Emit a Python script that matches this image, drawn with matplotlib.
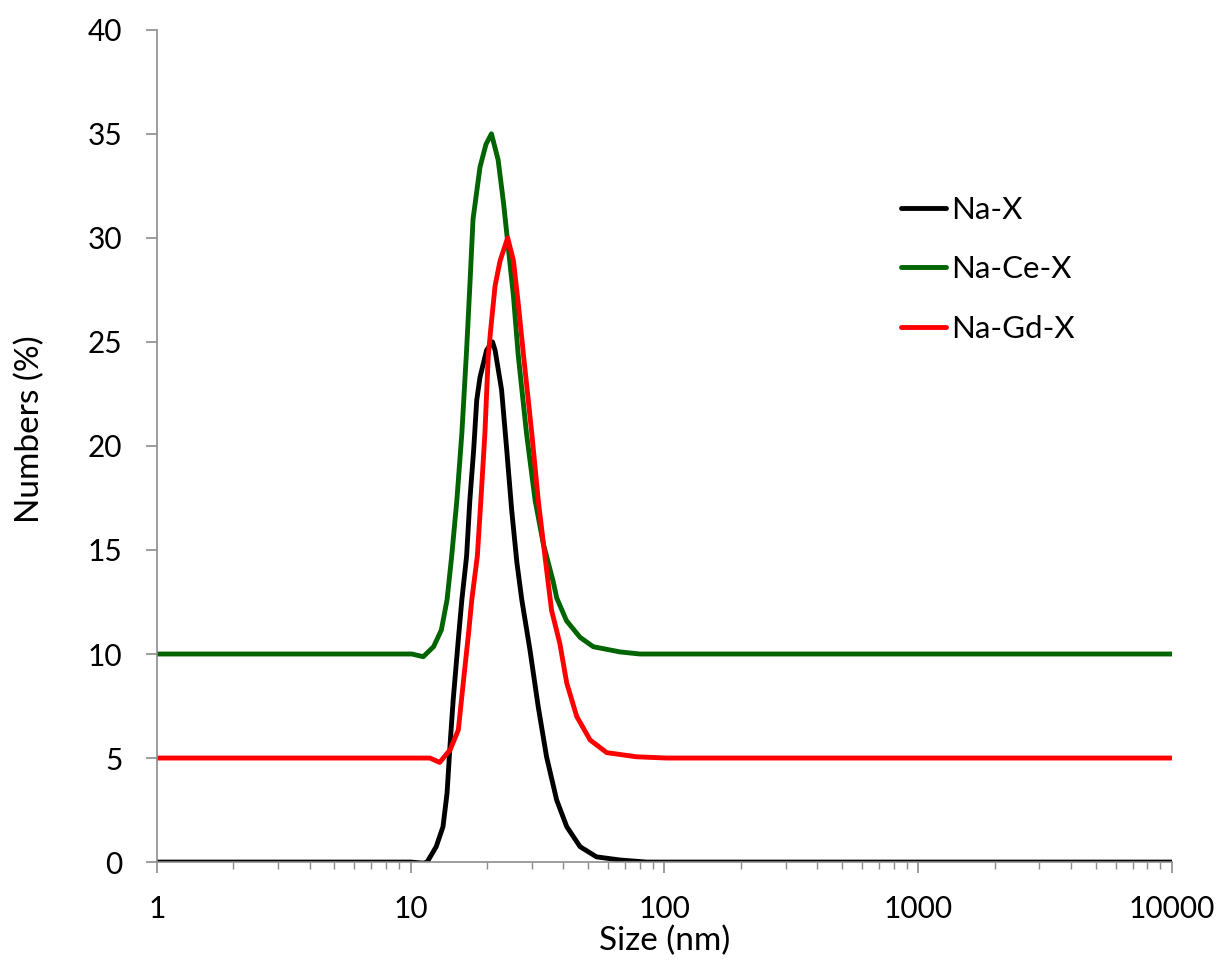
import matplotlib.pyplot as plt
import matplotlib.ticker as mticker

# DLS number distributions (size in nm, numbers in %), curves offset by series
na_x_size = [1, 10, 11.2, 11.6, 12.6, 13.4, 13.9, 14.3, 14.7, 15.4, 15.9, 16.6, 17.1,
             17.7, 18.2, 18.75, 19.9, 21.0, 21.5, 22.8, 23.9, 25.0, 26.2, 27.4, 29.5,
             31.8, 34.3, 37.6, 41.2, 46.5, 54, 66.8, 85, 10000]
na_x_num = [0, 0, -0.05, 0, 0.74, 1.7, 3.3, 5.7, 7.8, 10.7, 12.6, 14.7, 17.4,
            19.8, 22.2, 23.3, 24.6, 25.0, 24.6, 22.7, 19.8, 16.9, 14.4, 12.6, 10.2,
            7.47, 5.06, 2.98, 1.7, 0.74, 0.25, 0.1, 0, 0]

na_ce_size = [1, 10.1, 11.2, 12.3, 13.2, 13.9, 14.5, 15.2, 15.9, 16.6, 17.1, 17.6,
              18.75, 19.8, 20.8, 22.1, 23.2, 24.2, 25.4, 26.5, 28.6, 30.9, 33.3, 36.4,
              37.6, 41.1, 46.5, 52.4, 66.8, 80, 10000]
na_ce_num = [10, 10, 9.87, 10.35, 11.15, 12.6, 14.7, 17.4, 20.6, 24.6, 27.7, 30.9,
             33.4, 34.5, 35.0, 33.75, 31.7, 29.6, 27.2, 24.4, 20.6, 17.4, 15.3, 13.5,
             12.7, 11.6, 10.8, 10.35, 10.1, 10.0, 10.0]

na_gd_size = [1, 11.9, 13.0, 14.3, 15.4, 16.1, 16.9, 17.4, 18.3, 18.9, 19.6, 20.2,
              20.7, 21.5, 22.5, 24.1, 25.4, 26.5, 27.8, 30.0, 31.8, 33.8, 35.9, 38.7,
              41.2, 45.1, 50.9, 59.2, 77.6, 102, 10000]
na_gd_num = [5, 5, 4.79, 5.4, 6.35, 8.6, 11.0, 12.6, 14.7, 17.4, 20.6, 24.3,
             25.7, 27.7, 28.9, 30.0, 28.9, 26.9, 24.4, 20.6, 17.4, 14.7, 12.1, 10.5,
             8.6, 7.0, 5.87, 5.26, 5.06, 5.0, 5.0]

series = [
    ('Na-X', na_x_size, na_x_num, 'black'),
    ('Na-Ce-X', na_ce_size, na_ce_num, '#006400'),
    ('Na-Gd-X', na_gd_size, na_gd_num, '#ff0000'),
]

plt.rcParams['font.family'] = ['Lato', 'DejaVu Sans']

fig = plt.figure(figsize=(12.22, 9.6), dpi=100)
ax = fig.add_axes([0.1285, 0.102, 0.8305, 0.867])

for label, xs, ys, color in series:
    ax.plot(xs, ys, '-', color=color, linewidth=3.5, label=label,
            solid_joinstyle='round', solid_capstyle='round')

ax.set_xscale('log')
ax.set_xlim(1, 10000)
ax.set_ylim(0, 40)
ax.set_yticks(range(0, 41, 5))
ax.xaxis.set_major_locator(mticker.LogLocator(base=10))
ax.xaxis.set_minor_locator(mticker.LogLocator(base=10, subs=range(2, 10)))
ax.xaxis.set_major_formatter(mticker.FuncFormatter(lambda v, p: '%d' % v))
ax.xaxis.set_minor_formatter(mticker.NullFormatter())

for side in ['top', 'right']:
    ax.spines[side].set_visible(False)
for side in ['left', 'bottom']:
    ax.spines[side].set_color('#8c8c8c')
    ax.spines[side].set_linewidth(1.2)

ax.tick_params(axis='both', which='major', length=8, width=1.2, color='#8c8c8c',
               labelsize=21.5, direction='out')
ax.tick_params(axis='y', which='major', pad=17)
ax.tick_params(axis='x', which='major', pad=16)
ax.tick_params(axis='x', which='minor', length=5, width=1, color='#8c8c8c', direction='out')

ax.set_xlabel('Size (nm)', fontsize=24)
ax.set_ylabel('Numbers (%)', fontsize=24)
ax.xaxis.set_label_coords(0.5, -0.077)
ax.yaxis.set_label_coords(-0.110, 0.520)

leg = ax.legend(loc='upper left', bbox_to_anchor=(0.705, 0.834), frameon=False,
                handlelength=1.44, handletextpad=0.19, labelspacing=1.0,
                prop={'size': 22.5})

fig.savefig('out.png', dpi=100)
